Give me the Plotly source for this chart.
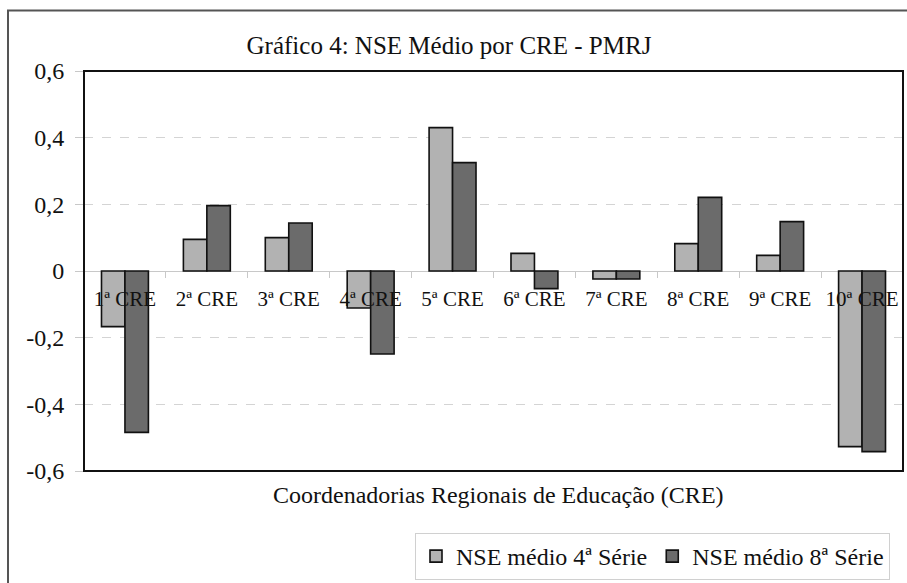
import plotly.graph_objects as go

categories = ["1ª CRE", "2ª CRE", "3ª CRE", "4ª CRE", "5ª CRE",
              "6ª CRE", "7ª CRE", "8ª CRE", "9ª CRE", "10ª CRE"]
nse_4serie = [-0.167, 0.095, 0.100, -0.111, 0.430, 0.053, -0.024, 0.082, 0.047, -0.527]
nse_8serie = [-0.484, 0.196, 0.144, -0.249, 0.325, -0.053, -0.024, 0.221, 0.148, -0.542]
series_names = ["NSE médio 4ª Série", "NSE médio 8ª Série"]
y_ticks = [-0.6, -0.4, -0.2, 0, 0.2, 0.4, 0.6]
y_tick_labels = ["-0,6", "-0,4", "-0,2", "0", "0,2", "0,4", "0,6"]

FONT = "Liberation Serif"

fig = go.Figure()
fig.add_trace(go.Bar(x=categories, y=nse_4serie, name=series_names[0],
                     marker=dict(color="#b2b2b2", line=dict(color="#111111", width=1.6))))
fig.add_trace(go.Bar(x=categories, y=nse_8serie, name=series_names[1],
                     marker=dict(color="#6b6b6b", line=dict(color="#111111", width=1.6))))

fig.update_layout(
    width=907, height=583,
    margin=dict(l=84, r=4, t=71, b=112, autoexpand=False),
    paper_bgcolor="white", plot_bgcolor="white",
    separators=",.",
    barmode="group", bargap=0.427, bargroupgap=0,
    font=dict(family=FONT, color="#111111", size=20),
    title=dict(text="Gráfico 4: NSE Médio por CRE - PMRJ", x=449 / 907, xanchor="center",
               xref="container", yref="container",
               y=1 - 45 / 583, yanchor="middle", font=dict(family=FONT, size=25, color="#111111")),
    showlegend=True,
    legend=dict(orientation="h", xref="container", yref="container",
                x=890 / 907, xanchor="right",
                y=(583 - 580) / 583, yanchor="bottom",
                bordercolor="#d0d0d0", borderwidth=1, bgcolor="white",
                font=dict(family=FONT, size=24, color="#111111"),
                itemwidth=30, traceorder="normal"),
    xaxis=dict(type="category", anchor="free", position=0.5, showline=False,
               automargin=False,
               ticks="outside", tickson="boundaries", ticklen=6, tickcolor="#c8c8c8",
               showgrid=False, tickfont=dict(family=FONT, size=21, color="#111111"),
               ticklabelstandoff=13),
    yaxis=dict(range=[-0.6, 0.6], tickmode="array", tickvals=y_ticks, ticktext=y_tick_labels,
               automargin=False,
               ticks="outside", ticklen=8, tickcolor="#c8c8c8",
               showgrid=True, gridcolor="#d4d4d4", griddash="dash", gridwidth=1,
               zeroline=True, zerolinecolor="#c8c8c8", zerolinewidth=1,
               showline=False, tickfont=dict(family=FONT, size=24, color="#111111"),
               ticklabelstandoff=6),
)

# plot area frame
fig.add_shape(type="rect", xref="paper", yref="paper", x0=0, x1=1, y0=0, y1=1,
              line=dict(color="#111111", width=2), layer="above")
# outer chart frame
fig.add_shape(type="rect", xref="paper", yref="paper",
              x0=(8 - 84) / 819, x1=1.1, y0=-0.5, y1=(471 - 10.5) / 400,
              line=dict(color="#555555", width=2), layer="above")

fig.add_annotation(text="Coordenadorias Regionais de Educação (CRE)", xref="paper", yref="paper",
                   x=(498 - 84) / 819, y=(471 - 495) / 400, xanchor="center", yanchor="middle",
                   showarrow=False, font=dict(family=FONT, size=24, color="#111111"))

fig.write_html("out.html",
               config={"displayModeBar": False},
               post_script="document.body.style.margin='0';document.body.style.padding='0';"
                           "document.body.style.overflow='hidden';")
